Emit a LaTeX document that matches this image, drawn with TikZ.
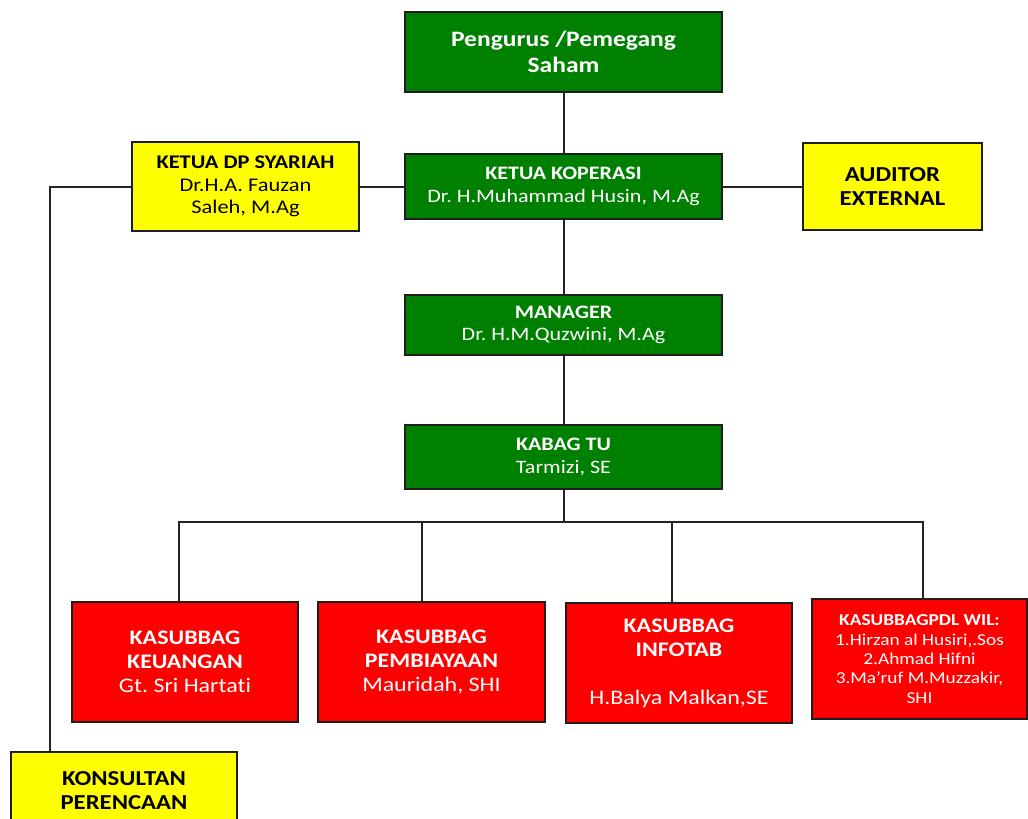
\documentclass[tikz,border=0pt]{standalone}
\usepackage{fontspec}
\setmainfont{Carlito}[FakeStretch=1.16, Ligatures=CommonOff]
\frenchspacing
\definecolor{orggreen}{RGB}{0,128,0}
\definecolor{orgred}{RGB}{255,0,0}
\definecolor{orgyellow}{RGB}{255,255,0}
\definecolor{edge}{RGB}{30,30,30}
\definecolor{wire}{RGB}{35,35,35}
\tikzset{
  box/.style={draw=edge, line width=1.1pt, align=center, inner sep=0pt,
    font=\fontsize{14.25pt}{17pt}\selectfont},
  greenbox/.style={box, fill=orggreen, text=white, minimum width=237.75pt},
  yellowbox/.style={box, fill=orgyellow, text=black},
  redbox/.style={box, fill=orgred, text=white, minimum height=90pt,
    font=\fontsize{15.5pt}{18pt}\selectfont},
  wireline/.style={draw=wire, line width=1.5pt},
}
\begin{document}
\frenchspacing
\begin{tikzpicture}[x=0.75pt,y=-0.75pt]
\clip (0,0) rectangle (1028,818);
\fill[white] (0,0) rectangle (1028,818);

\node[greenbox, minimum height=60pt, font=\fontsize{16.5pt}{19.5pt}\selectfont\bfseries] (peng) at (563.5,52) {Pengurus /Pemegang\\Saham};
\node[greenbox, minimum height=48.75pt] (ketua) at (563.5,186.5) {\textbf{KETUA KOPERASI}\\Dr. H.Muhammad Husin, M.Ag};
\node[yellowbox, minimum width=170.25pt, minimum height=66.75pt, font=\fontsize{14.5pt}{17pt}\selectfont] (dps) at (245.5,186.5) {\textbf{KETUA DP SYARIAH}\\Dr.H.A. Fauzan\\Saleh, M.Ag};
\node[yellowbox, minimum width=134.25pt, minimum height=65.25pt, font=\fontsize{16pt}{18.5pt}\selectfont\bfseries] (aud) at (892.5,186.5) {AUDITOR\\EXTERNAL};
\node[greenbox, minimum height=45pt] (man) at (563.5,325) {\textbf{MANAGER}\\Dr. H.M.Quzwini, M.Ag};
\node[greenbox, minimum height=48pt] (kabag) at (563.5,457) {\textbf{KABAG TU}\\Tarmizi, SE};

\node[redbox, minimum width=169.5pt] (keu) at (185,662) {\textbf{KASUBBAG}\\\textbf{KEUANGAN}\\Gt. Sri Hartati};
\node[redbox, minimum width=170.25pt] (pemb) at (431.5,662) {\textbf{KASUBBAG}\\\textbf{PEMBIAYAAN}\\Mauridah, SHI};
\node[redbox, minimum width=169.5pt] (info) at (679,663) {\textbf{KASUBBAG}\\\textbf{INFOTAB}\\[18pt]H.Balya Malkan,SE};
\node[redbox, minimum width=161.25pt, font=\fontsize{12.5pt}{14.5pt}\selectfont] (pdl) at (919.5,659) {\textbf{KASUBBAGPDL WIL:}\\1.Hirzan al Husiri,.Sos\\2.Ahmad Hifni\\3.Ma’ruf M.Muzzakir,\\SHI};

\node[yellowbox, minimum width=169.5pt, minimum height=58.5pt, font=\fontsize{16pt}{18pt}\selectfont\bfseries] (kons) at (124,791) {KONSULTAN\\PERENCAAN};

\draw[wireline] (peng.south) -- (ketua.north);
\draw[wireline] (dps.east) -- (ketua.west);
\draw[wireline] (ketua.east) -- (aud.west);
\draw[wireline] (ketua.south) -- (man.north);
\draw[wireline] (man.south) -- (kabag.north);
\draw[wireline] (dps.west) -| ([xshift=-55.5pt]kons.north);

\coordinate (bus) at (563.5,522);
\draw[wireline] (kabag.south) -- (bus);
\draw[wireline] ([xshift=-4.5pt]keu.north) |- ([xshift=2.25pt]pdl.north |- bus) -- ([xshift=2.25pt]pdl.north);
\draw[wireline] ([xshift=-7pt]pemb.north) -- ([xshift=-7pt]pemb.north |- bus);
\draw[wireline] ([xshift=-5.25pt]info.north) -- ([xshift=-5.25pt]info.north |- bus);
\end{tikzpicture}
\end{document}
